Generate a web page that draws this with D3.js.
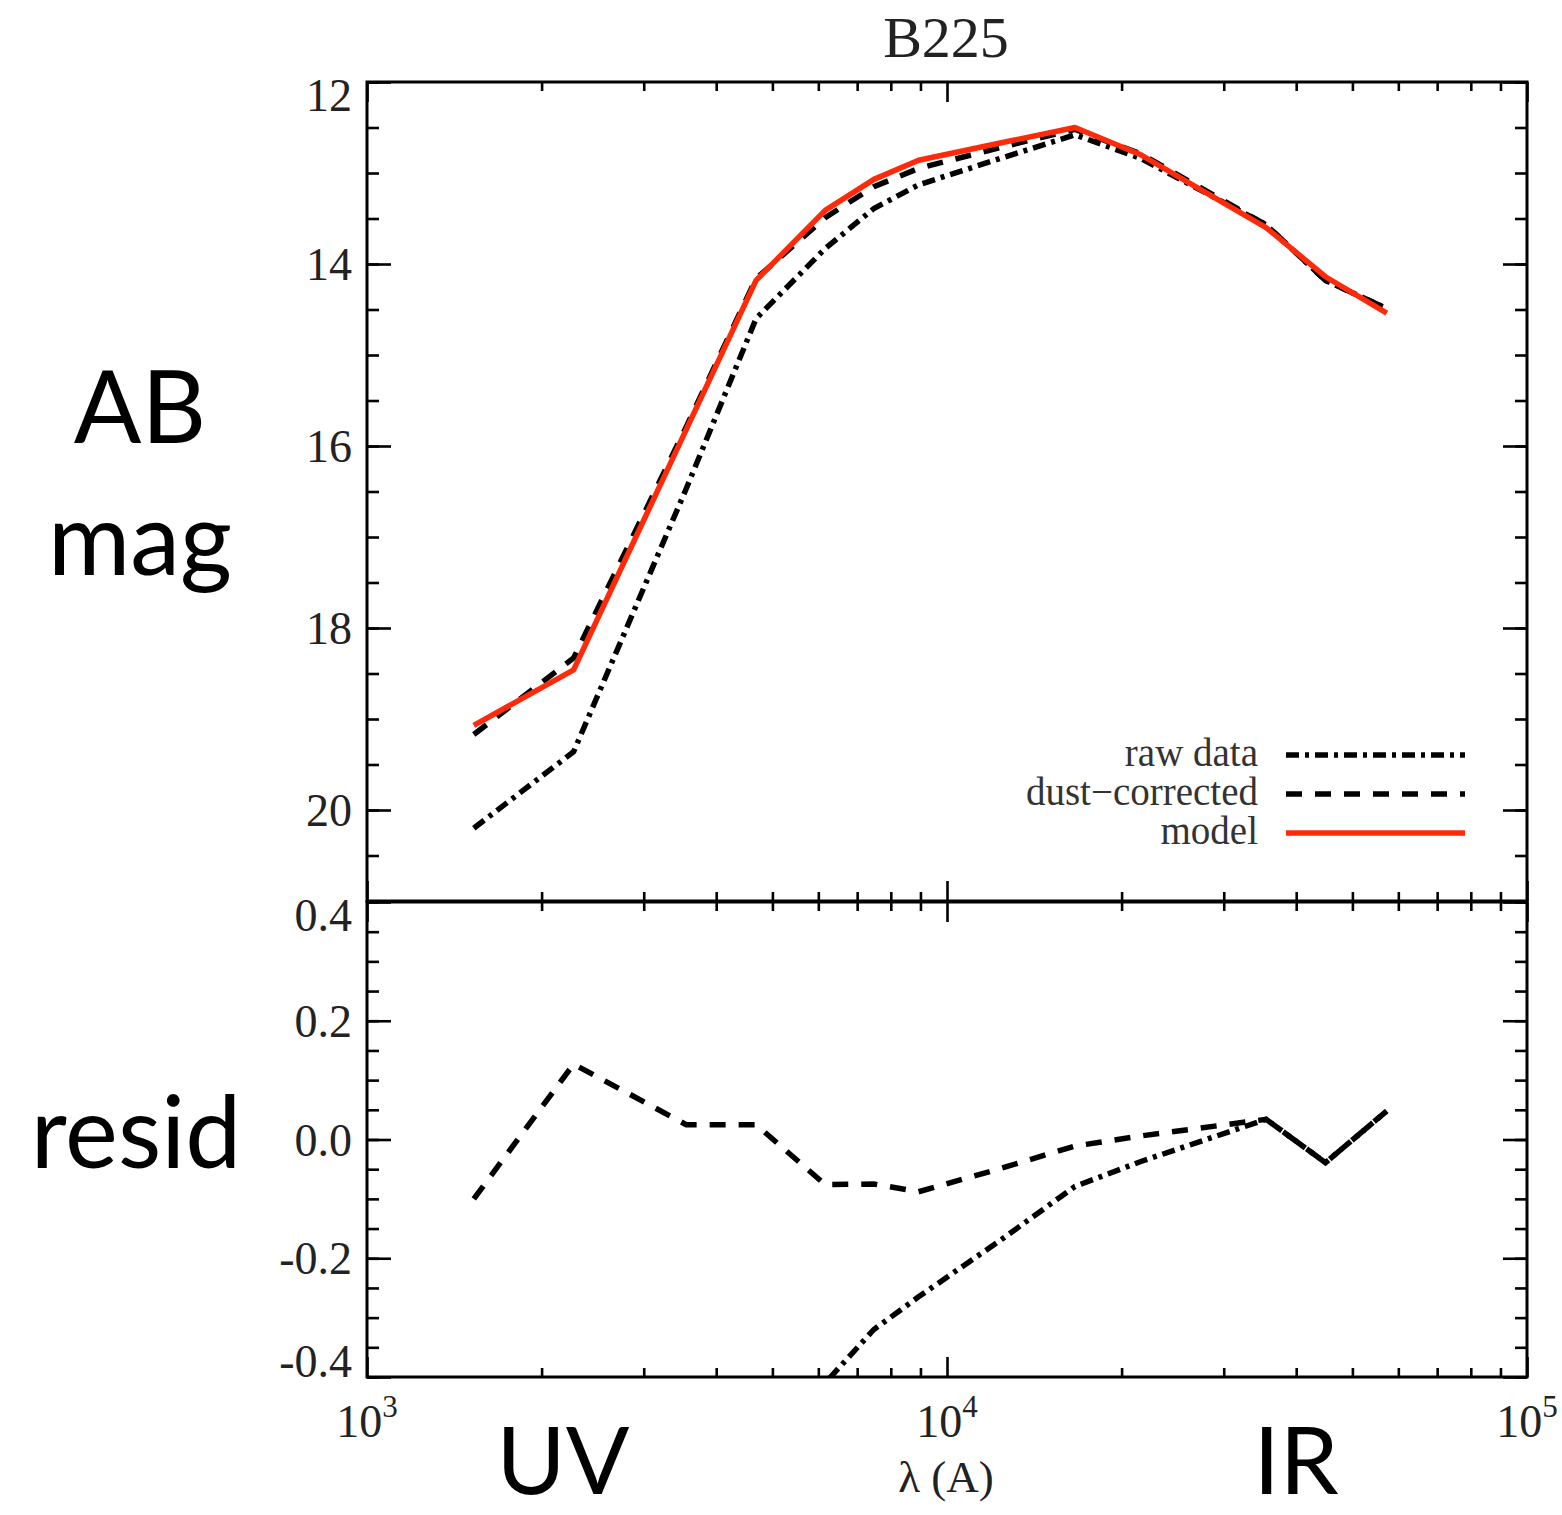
<!DOCTYPE html>
<html><head><meta charset="utf-8">
<script src="https://cdn.jsdelivr.net/npm/d3@7"></script>
<style>
html,body{margin:0;padding:0;background:#fff;}
svg{display:block;}
</style></head>
<body>
<svg id="chart" width="1562" height="1515"></svg>
<script>
// ---- data ----
const bands       = ["FUV","NUV","u","g","r","i","z","J","H","Ks","3.6","4.5","5.8"];
const wavelengths = [1528, 2271, 3551, 4686, 6166, 7480, 8932, 12350, 16620, 21590, 35500, 44930, 57310];
const modelMag    = [19.07, 18.46, 15.82, 14.18, 13.41, 13.07, 12.86, 12.67, 12.50, 12.80, 13.60, 14.14, 14.54];
const dustMag     = [19.17, 18.33, 15.79, 14.16, 13.49, 13.15, 12.95, 12.72, 12.52, 12.79, 13.57, 14.18, 14.49];
const rawMag      = [20.20, 19.36, 16.47, 14.60, 13.83, 13.39, 13.13, 12.84, 12.58, 12.84, 13.57, 14.18, 14.49];
const dustResid   = [-0.10, 0.127, 0.025, 0.025, -0.076, -0.075, -0.088, -0.049, -0.011, 0.006, 0.034, -0.039, 0.048];
const rawResid    = [-1.13, -0.90, -0.65, -0.43, -0.41, -0.32, -0.265, -0.17, -0.079, -0.037, 0.034, -0.039, 0.048];
const magTicks    = [12, 14, 16, 18, 20];
const residTicks  = [0.4, 0.2, 0.0, -0.2, -0.4];
const xMajor      = [1e3, 1e4, 1e5];
const xExponents  = ["3", "4", "5"];
const legendLabels = ["raw data", "dust\u2212corrected", "model"];

// ---- layout ----
const svg = d3.select("#chart");
const L = 367, R = 1527, T1 = 82, B1 = 901, T2 = 902, B2 = 1377;
const serif = "'Liberation Serif','Times New Roman',serif";
const sans = "Lato,'Open Sans',sans-serif";

const x = d3.scaleLog().domain([1e3, 1e5]).range([L, R]);
const yTop = d3.scaleLinear().domain([12, 21]).range([T1, B1]);
const yBot = d3.scaleLinear().domain([0.4, -0.4]).range([T2, B2]);

const xMinor = [];
[1e3, 1e4].forEach(d => { for (let k = 2; k <= 9; k++) xMinor.push(d * k); });

function styleAxis(g) {
  g.select(".domain").remove();
  g.selectAll(".tick line").attr("stroke", "#000").attr("stroke-width", 2.6);
  g.selectAll(".tick text").attr("font-family", serif).attr("font-size", 46).attr("fill", "#222");
}

function xTicks(yPos, dir) {
  const gen = dir > 0 ? d3.axisTop : d3.axisBottom;
  svg.append("g").attr("transform", `translate(0,${yPos})`)
    .call(gen(x).tickValues(xMajor).tickSize(-20).tickFormat("")).call(styleAxis);
  svg.append("g").attr("transform", `translate(0,${yPos})`)
    .call(gen(x).tickValues(xMinor).tickSize(-9).tickFormat("")).call(styleAxis);
}
xTicks(T1, 1);
xTicks(B1, -1);
xTicks(T2, 1);
xTicks(B2, -1);

function yTicks(scale, major, minor, fmt, top, bottom) {
  const gl = svg.append("g").attr("transform", `translate(${L},0)`)
    .call(d3.axisLeft(scale).tickValues(major).tickSize(-24).tickPadding(15).tickFormat(fmt)).call(styleAxis);
  gl.selectAll(".tick text").attr("dy", function(d) {
    const yy = scale(d);
    if (Math.abs(yy - top) < 3) return "0.32em";
    if (Math.abs(yy - bottom) < 3) return "-0.02em";
    return "0.34em";
  }).attr("transform", function(d) {
    const yy = scale(d);
    if (Math.abs(yy - top) < 3) return "translate(0,14)";
    return null;
  });
  svg.append("g").attr("transform", `translate(${L},0)`)
    .call(d3.axisLeft(scale).tickValues(minor).tickSize(-12).tickFormat("")).call(styleAxis);
  svg.append("g").attr("transform", `translate(${R},0)`)
    .call(d3.axisRight(scale).tickValues(major).tickSize(-24).tickFormat("")).call(styleAxis);
  svg.append("g").attr("transform", `translate(${R},0)`)
    .call(d3.axisRight(scale).tickValues(minor).tickSize(-12).tickFormat("")).call(styleAxis);
}
yTicks(yTop, magTicks, d3.range(12, 21.01, 0.5), d => d3.format("d")(d), T1, B1);
yTicks(yBot, residTicks, d3.range(-0.4, 0.401, 0.05).map(v => +v.toFixed(2)),
       d => d3.format(".1f")(d).replace("\u2212", "-"), T2, B2);

// frames
svg.append("rect").attr("x", L).attr("y", T1).attr("width", R - L).attr("height", B1 - T1)
  .attr("fill", "none").attr("stroke", "#000").attr("stroke-width", 3);
svg.append("rect").attr("x", L).attr("y", T2).attr("width", R - L).attr("height", B2 - T2)
  .attr("fill", "none").attr("stroke", "#000").attr("stroke-width", 3);

// x tick labels with superscripts
xMajor.forEach((v, i) => {
  const t = svg.append("text").attr("x", x(v)).attr("y", 1437)
    .attr("text-anchor", "middle").attr("font-family", serif).attr("font-size", 46).attr("fill", "#222");
  t.append("tspan").text("10");
  t.append("tspan").attr("font-size", 31).attr("dy", -20).text(xExponents[i]);
});

// clip paths
const defs = svg.append("defs");
defs.append("clipPath").attr("id", "clipTop").append("rect")
  .attr("x", L).attr("y", T1).attr("width", R - L).attr("height", B1 - T1);
defs.append("clipPath").attr("id", "clipBot").append("rect")
  .attr("x", L).attr("y", T2).attr("width", R - L).attr("height", B2 - T2);

const dashDot = "13,6,4,6";
const dashed = "16,13";
const red = "#ff2a0a";

function series(vals) { return wavelengths.map((w, i) => ({w, v: vals[i]})); }
const lineTop = d3.line().x(d => x(d.w)).y(d => yTop(d.v));
const lineBot = d3.line().x(d => x(d.w)).y(d => yBot(d.v));

const gTop = svg.append("g").attr("clip-path", "url(#clipTop)");
gTop.append("path").datum(series(rawMag)).attr("d", lineTop).attr("fill", "none")
  .attr("stroke", "#000").attr("stroke-width", 5.5).attr("stroke-dasharray", dashDot);
gTop.append("path").datum(series(dustMag)).attr("d", lineTop).attr("fill", "none")
  .attr("stroke", "#000").attr("stroke-width", 5.5).attr("stroke-dasharray", dashed);
gTop.append("path").datum(series(modelMag)).attr("d", lineTop).attr("fill", "none")
  .attr("stroke", red).attr("stroke-width", 5.5).attr("stroke-linejoin", "round");

const gBot = svg.append("g").attr("clip-path", "url(#clipBot)");
gBot.append("path").datum(series(rawResid)).attr("d", lineBot).attr("fill", "none")
  .attr("stroke", "#000").attr("stroke-width", 5.5).attr("stroke-dasharray", dashDot);
gBot.append("path").datum(series(dustResid)).attr("d", lineBot).attr("fill", "none")
  .attr("stroke", "#000").attr("stroke-width", 5.5).attr("stroke-dasharray", dashed);

// legend
const legStyles = [
  {stroke: "#000", dash: dashDot},
  {stroke: "#000", dash: dashed},
  {stroke: red, dash: null}
];
const legY = [755, 794, 833];
legendLabels.forEach((lab, i) => {
  svg.append("text").attr("x", 1258).attr("y", legY[i] + 11).attr("text-anchor", "end")
    .attr("font-family", serif).attr("font-size", 39).attr("fill", "#333").text(lab);
  const ln = svg.append("line").attr("x1", 1286).attr("x2", 1465).attr("y1", legY[i]).attr("y2", legY[i])
    .attr("stroke", legStyles[i].stroke).attr("stroke-width", 5.5);
  if (legStyles[i].dash) ln.attr("stroke-dasharray", legStyles[i].dash);
});

// titles
svg.append("text").attr("x", 946).attr("y", 57).attr("text-anchor", "middle")
  .attr("font-family", serif).attr("font-size", 58).attr("fill", "#222").text("B225");
svg.append("text").attr("x", 946).attr("y", 1492).attr("text-anchor", "middle")
  .attr("font-family", serif).attr("font-size", 45).attr("fill", "#222").text("\u03bb (A)");

// big side labels
const big = [
  {t: "AB", x: 140, y: 443, s: 100},
  {t: "mag", x: 140, y: 575, s: 100},
  {t: "resid", x: 136, y: 1168, s: 100},
  {t: "UV", x: 563, y: 1494, s: 94},
  {t: "IR", x: 1296, y: 1494, s: 94}
];
big.forEach(b => {
  svg.append("text").attr("x", b.x).attr("y", b.y).attr("text-anchor", "middle")
    .attr("font-family", sans).attr("font-size", b.s).attr("fill", "#000").text(b.t);
});
</script>
</body></html>
